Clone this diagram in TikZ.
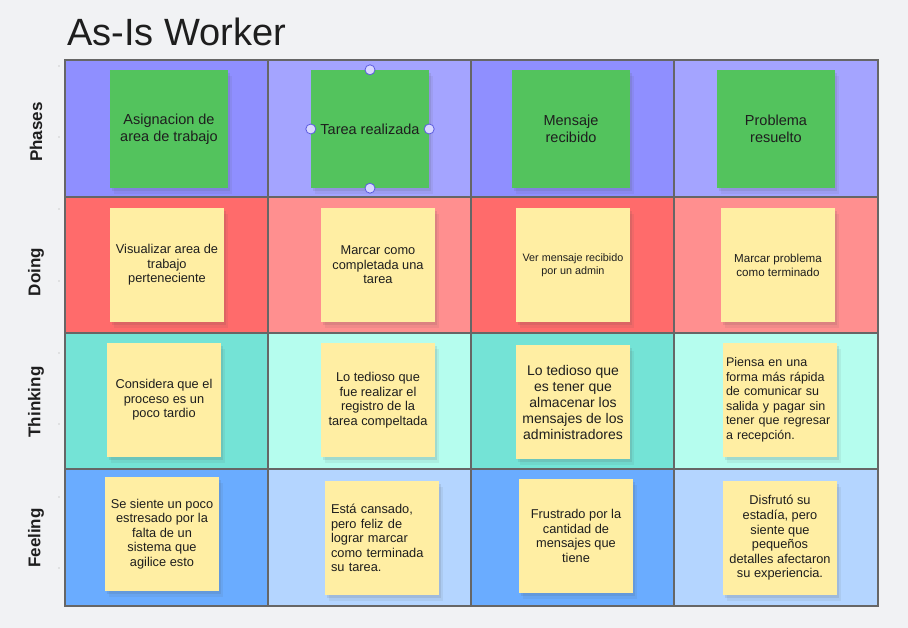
\documentclass[tikz,border=0pt]{standalone}
\usepackage{fontspec}
\setmainfont{Liberation Sans}
\usetikzlibrary{shadows}
\definecolor{bgcol}{HTML}{F1F2F4}
\definecolor{phaseA}{HTML}{8F8FFF}
\definecolor{phaseB}{HTML}{A4A4FF}
\definecolor{doA}{HTML}{FF6B6B}
\definecolor{doB}{HTML}{FF8F8F}
\definecolor{thinkA}{HTML}{74E3D6}
\definecolor{thinkB}{HTML}{B5FDEE}
\definecolor{feelA}{HTML}{6AACFF}
\definecolor{feelB}{HTML}{B4D5FF}
\definecolor{stickygreen}{HTML}{53C35D}
\definecolor{stickyyellow}{HTML}{FFEEA3}
\definecolor{ink}{HTML}{1E1E1E}
\definecolor{gridcol}{HTML}{666666}
\definecolor{handlefill}{HTML}{D8D8FF}
\definecolor{handledraw}{HTML}{5B5BE0}

\begin{document}
\begin{tikzpicture}[x=1pt,y=-1pt,
  note/.style={fill=stickyyellow,minimum width=114pt,minimum height=114pt,inner sep=4pt,align=center,text=ink,
    font=\fontsize{12.8}{14.6}\selectfont,
    drop shadow={shadow xshift=2pt,shadow yshift=-3pt,opacity=.12,fill=black!70},
    drop shadow={shadow xshift=4pt,shadow yshift=-6pt,opacity=.08,fill=black!70}},
  noteleft/.style={note,align=left,text width=102pt,inner xsep=6pt},
  phase/.style={note,fill=stickygreen,minimum width=118pt,minimum height=118pt,font=\fontsize{14.5}{17}\selectfont},
  rowlabel/.style={rotate=90,text=ink,font=\bfseries\fontsize{17}{20}\selectfont},
  gridline/.style={draw=gridcol,line width=1.4pt},
  handle/.style={circle,fill=handlefill,draw=handledraw,line width=.8pt,minimum size=10pt,inner sep=0pt}]
\fill[bgcol] (0,0) rectangle (908,628);
\node[anchor=base west,text=ink,inner sep=0pt,font=\fontsize{38}{42}\selectfont] (title) at (67,46) {As-Is Worker};
\foreach \ytop/\ybot/\ca/\cb in {60/197/phaseA/phaseB,197/333/doA/doB,333/469/thinkA/thinkB,469/606/feelA/feelB}{
  \fill[\ca] (65,\ytop) rectangle (268,\ybot);
  \fill[\cb] (268,\ytop) rectangle (471,\ybot);
  \fill[\ca] (471,\ytop) rectangle (674,\ybot);
  \fill[\cb] (674,\ytop) rectangle (878,\ybot);
}
\foreach \x in {268,471,674} \draw[gridline] (\x,60) -- (\x,606);
\foreach \y in {197,333,469} \draw[gridline] (65,\y) -- (878,\y);
\draw[gridline] (65,60) rectangle (878,606);
\foreach \y in {66,137,209,281,353,424,497,568} \fill[gray!70] (59,\y) circle (.7pt);

\node[rowlabel] (phases) at (36,132) {Phases};
\node[rowlabel] (doing) at (36,272) {Doing};
\node[rowlabel] (thinking) at (36,402) {Thinking};
\node[rowlabel] (feeling) at (36,538) {Feeling};

\node[phase] (asig) at (169,129) {Asignacion de\\area de trabajo};
\node[phase] (tarea) at (370,129) {Tarea realizada};
\node[phase] (mensaje) at (571,129) {Mensaje\\recibido};
\node[phase] (problema) at (776,129) {Problema\\resuelto};
\node[handle] (htop) at (tarea.north) {};
\node[handle] (hbottom) at (tarea.south) {};
\node[handle] (hleft) at (tarea.west) {};
\node[handle] (hright) at (tarea.east) {};

\node[note] (visualizar) at (167,265) {Visualizar area de\\trabajo\\perteneciente};
\node[note] (marcar) at (378,265) {Marcar como\\completada una\\tarea};
\node[note,font=\fontsize{10.8}{13}\selectfont] (ver) at (573,265) {Ver mensaje recibido\\por un admin};
\node[note,font=\fontsize{11.6}{14}\selectfont] (marcarprob) at (778,265) {Marcar problema\\como terminado};

\node[note] (considera) at (164,400) {Considera que el\\proceso es un\\poco tardio};
\node[note] (tedioso) at (378,400) {Lo tedioso que\\fue realizar el\\registro de la\\tarea compeltada};
\node[note,font=\fontsize{14}{16}\selectfont] (almacenar) at (573,402) {Lo tedioso que\\es tener que\\almacenar los\\mensajes de los\\administradores};
\node[noteleft,font=\fontsize{12.5}{14.5}\selectfont,inner xsep=3pt,text width=108pt] (piensa) at (780,400) {Piensa en una\\forma más rápida\\de comunicar su\\salida y pagar sin\\tener que regresar\\a recepción.};

\node[note] (estresado) at (162,534) {Se siente un poco\\estresado por la\\falta de un\\sistema que\\agilice esto};
\node[noteleft] (cansado) at (382,538) {Está cansado,\\pero feliz de\\lograr marcar\\como terminada\\su tarea.};
\node[note] (frustrado) at (576,536) {Frustrado por la\\cantidad de\\mensajes que\\tiene};
\node[note] (disfruto) at (780,538) {Disfrutó su\\estadía, pero\\siente que\\pequeños\\detalles afectaron\\su experiencia.};
\end{tikzpicture}
\end{document}
